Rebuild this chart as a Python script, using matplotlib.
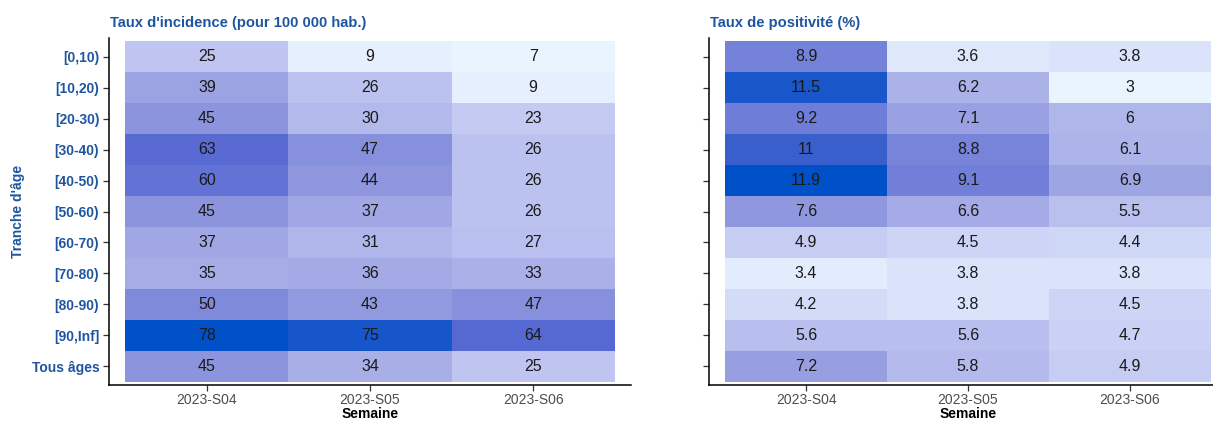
import numpy as np
import matplotlib
matplotlib.use("Agg")
import matplotlib.pyplot as plt
from matplotlib.colors import LinearSegmentedColormap

plt.rcParams["font.family"] = ["Liberation Sans", "DejaVu Sans"]

# -----------------------------
# Data
# -----------------------------
weeks = ["2023-S04", "2023-S05", "2023-S06"]
age_groups = ["[0,10)", "[10,20)", "[20-30)", "[30-40)", "[40-50)", "[50-60)",
              "[60-70)", "[70-80)", "[80-90)", "[90,Inf]", "Tous âges"]

incidence = [
    [25, 9, 7],
    [39, 26, 9],
    [45, 30, 23],
    [63, 47, 26],
    [60, 44, 26],
    [45, 37, 26],
    [37, 31, 27],
    [35, 36, 33],
    [50, 43, 47],
    [78, 75, 64],
    [45, 34, 25],
]

positivity = [
    ["8.9", "3.6", "3.8"],
    ["11.5", "6.2", "3"],
    ["9.2", "7.1", "6"],
    ["11", "8.8", "6.1"],
    ["11.9", "9.1", "6.9"],
    ["7.6", "6.6", "5.5"],
    ["4.9", "4.5", "4.4"],
    ["3.4", "3.8", "3.8"],
    ["4.2", "3.8", "4.5"],
    ["5.6", "5.6", "4.7"],
    ["7.2", "5.8", "4.9"],
]

titles = ["Taux d'incidence (pour 100 000 hab.)", "Taux de positivité (%)"]

# -----------------------------
# Style
# -----------------------------
cmap = LinearSegmentedColormap.from_list(
    "blues_sp",
    [(0.0, "#eaf4ff"), (0.25, "#bfc5f0"), (0.53, "#8d95dd"), (0.7, "#6e7dd8"),
     (0.79, "#5a6ad3"), (0.9, "#3a5fcc"), (1.0, "#0050c8")],
)
BLUE = "#1f55a0"

W, H = 1213, 421
fig = plt.figure(figsize=(W / 100, H / 100), dpi=100)

# axes boxes in pixels: left edge, width
panels = [
    (109, 522),
    (709, 518),
]
top_px, bottom_px = 38, 385


def draw_panel(ax, values, labels, show_y):
    arr = np.array(values, dtype=float)
    nr, nc = arr.shape
    xe = np.arange(nc + 1) - 0.5
    ye = np.arange(nr + 1) - 0.5
    ax.pcolormesh(xe, ye, arr, cmap=cmap, vmin=arr.min(), vmax=arr.max(),
                  edgecolors="none", antialiased=False)
    for i in range(nr):
        for j in range(nc):
            ax.text(j, i, labels[i][j], ha="center", va="center",
                    fontsize=11.5, color="#1a1a1a")
    ax.set_xlim(-0.6, nc - 0.4)
    ax.set_ylim(nr - 0.4, -0.6)
    ax.set_xticks(range(nc))
    ax.set_xticklabels(weeks, fontsize=10, color="#4d4d4d")
    ax.set_yticks(range(nr))
    if show_y:
        ax.set_yticklabels(age_groups, fontsize=10, color=BLUE, fontweight="bold")
    else:
        ax.set_yticklabels([])
    for s in ["top", "right"]:
        ax.spines[s].set_visible(False)
    for s in ["left", "bottom"]:
        ax.spines[s].set_linewidth(1.1)
        ax.spines[s].set_color("black")
    ax.tick_params(length=4, width=0.9, color="#333333", pad=3)
    ax.tick_params(axis="x", pad=2)
    ax.set_xlabel("Semaine", fontsize=10, fontweight="bold", labelpad=0)


for k, ((x0, wpx), vals) in enumerate(zip(panels, [incidence, positivity])):
    ax = fig.add_axes([x0 / W, 1 - bottom_px / H, wpx / W, (bottom_px - top_px) / H])
    if k == 0:
        lbl = [[str(v) for v in row] for row in vals]
        draw_panel(ax, vals, lbl, True)
        ax.set_ylabel("Tranche d'âge", fontsize=10, fontweight="bold", color=BLUE,
                      labelpad=5)
    else:
        numeric = [[float(v) for v in row] for row in vals]
        draw_panel(ax, numeric, vals, False)
    fig.text((x0 + 1) / W, 1 - 23 / H, titles[k], ha="left", va="center",
             fontsize=10.6, fontweight="bold", color=BLUE)

fig.savefig("out.png", dpi=100)
